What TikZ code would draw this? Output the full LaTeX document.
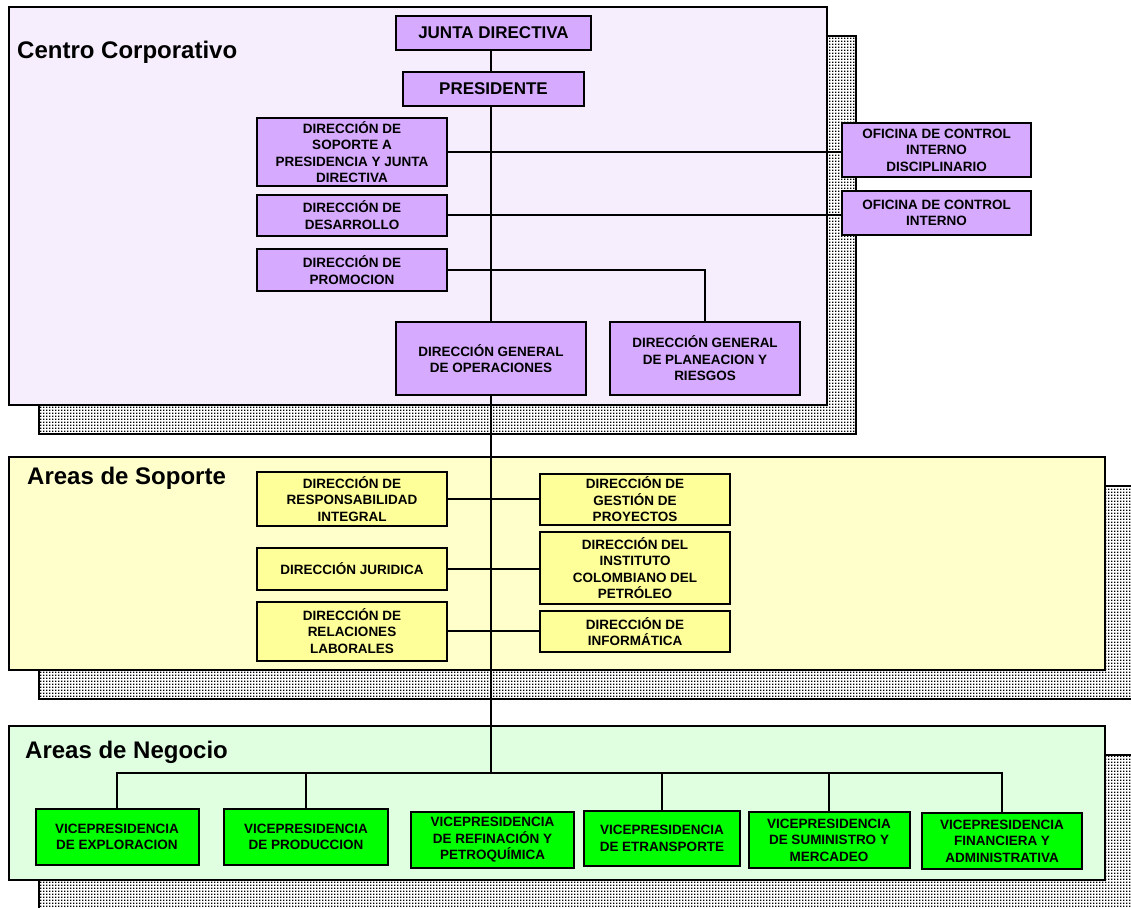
\documentclass[tikz,border=0pt]{standalone}
\usepackage{fontspec}
\setmainfont{Liberation Sans}
\usetikzlibrary{patterns}

\definecolor{lav}{HTML}{F6EEFC}
\definecolor{purp}{HTML}{D6ABFF}
\definecolor{ylpanel}{HTML}{FFFFCC}
\definecolor{ylnode}{HTML}{FFFF99}
\definecolor{grpanel}{HTML}{E0FFE0}
\definecolor{grnode}{HTML}{00FF00}

% square dot screen used for the drop shadows
\pgfdeclarepatternformonly{screendots}{\pgfpointorigin}{\pgfpoint{2.7pt}{2.7pt}}{\pgfpoint{2.7pt}{2.7pt}}{%
  \pgfpathrectangle{\pgfpointorigin}{\pgfpoint{1.6pt}{1.6pt}}\pgfusepath{fill}}

\pgfdeclarelayer{panels}
\pgfdeclarelayer{links}
\pgfsetlayers{panels,links,main}

\begin{document}
\begin{tikzpicture}[x=1pt,y=-1pt,
  unit/.style={draw=black, line width=2pt, inner sep=0pt, outer sep=0pt,
    align=center, font=\bfseries\fontsize{13.5}{16.5}\selectfont},
  corp/.style={unit, fill=purp},
  sup/.style={unit, fill=ylnode},
  neg/.style={unit, fill=grnode},
  big/.style={font=\bfseries\fontsize{17}{20}\selectfont},
  panel/.style={draw=black, line width=2pt},
  shade/.style={draw=black, line width=2pt, pattern=screendots, pattern color=black},
  title/.style={anchor=base west, inner sep=0pt, font=\bfseries\fontsize{24}{28}\selectfont},
  link/.style={draw=black, line width=2pt}
]
\useasboundingbox (0,0) rectangle (1131,907);

% group panels with their dotted drop shadows
\begin{pgfonlayer}{panels}
  \clip (0,0) rectangle (1131,907);
  \fill[white] (0,0) rectangle (1131,907);
  \fill[white] (39,36) rectangle (856,434);
  \path[shade] (39,36) rectangle (856,434);
  \path[panel, fill=lav] (9,7) rectangle (827,405);
  \fill[white] (39,486) rectangle (1140,699);
  \path[shade] (39,486) rectangle (1140,699);
  \path[panel, fill=ylpanel] (9,457) rectangle (1105,670);
  \fill[white] (39,755) rectangle (1140,915);
  \path[shade] (39,755) rectangle (1140,915);
  \path[panel, fill=grpanel] (9,726) rectangle (1105,880);
\end{pgfonlayer}

\node[title] (tcentro) at (17,59) {Centro Corporativo};
\node[title] (tsoporte) at (27,484) {Areas de Soporte};
\node[title] (tnegocio) at (25,758) {Areas de Negocio};

% Centro Corporativo
\node[corp, big, minimum width=195, minimum height=34] (junta) at (493.5,33) {JUNTA DIRECTIVA};
\node[corp, big, minimum width=181, minimum height=34] (pres) at (493.5,89) {PRESIDENTE};
\node[corp, minimum width=190, minimum height=68] (soporte) at (352,152)
  {DIRECCIÓN DE\\SOPORTE A\\PRESIDENCIA Y JUNTA\\DIRECTIVA};
\node[corp, minimum width=190, minimum height=41] (desarrollo) at (352,215)
  {DIRECCIÓN DE\\DESARROLLO};
\node[corp, minimum width=190, minimum height=42] (promocion) at (352,270)
  {DIRECCIÓN DE\\PROMOCION};
\node[corp, minimum width=190, minimum height=73] (operaciones) at (491,358.5)
  {DIRECCIÓN GENERAL\\DE OPERACIONES};
\node[corp, minimum width=190, minimum height=73] (planeacion) at (705,358.5)
  {DIRECCIÓN GENERAL\\DE PLANEACION Y\\RIESGOS};
\node[corp, minimum width=189, minimum height=54] (ocid) at (936.5,150)
  {OFICINA DE CONTROL\\INTERNO\\DISCIPLINARIO};
\node[corp, minimum width=189, minimum height=44] (oci) at (936.5,213)
  {OFICINA DE CONTROL\\INTERNO};

% Areas de Soporte
\node[sup, minimum width=190, minimum height=54] (resp) at (352,499)
  {DIRECCIÓN DE\\RESPONSABILIDAD\\INTEGRAL};
\node[sup, minimum width=190, minimum height=42] (juridica) at (352,569)
  {DIRECCIÓN JURIDICA};
\node[sup, minimum width=190, minimum height=59] (relaciones) at (352,631)
  {DIRECCIÓN DE\\RELACIONES\\LABORALES};
\node[sup, minimum width=190, minimum height=51] (gestion) at (635,499.5)
  {DIRECCIÓN DE\\GESTIÓN DE\\PROYECTOS};
\node[sup, minimum width=190, minimum height=72] (instituto) at (635,568)
  {DIRECCIÓN DEL\\INSTITUTO\\COLOMBIANO DEL\\PETRÓLEO};
\node[sup, minimum width=190, minimum height=41] (informatica) at (635,631.5)
  {DIRECCIÓN DE\\INFORMÁTICA};

% Areas de Negocio
\node[neg, minimum width=163, minimum height=56] (expl) at (117,837)
  {VICEPRESIDENCIA\\DE EXPLORACION};
\node[neg, minimum width=164, minimum height=56] (prod) at (306,837)
  {VICEPRESIDENCIA\\DE PRODUCCION};
\node[neg, minimum width=163, minimum height=56] (refi) at (492.5,840)
  {VICEPRESIDENCIA\\DE REFINACIÓN Y\\PETROQUÍMICA};
\node[neg, minimum width=156, minimum height=55] (etra) at (662,838.5)
  {VICEPRESIDENCIA\\DE ETRANSPORTE};
\node[neg, minimum width=161, minimum height=56] (sumi) at (829,840)
  {VICEPRESIDENCIA\\DE SUMINISTRO Y\\MERCADEO};
\node[neg, minimum width=160, minimum height=56] (fina) at (1002,841)
  {VICEPRESIDENCIA\\FINANCIERA Y\\ADMINISTRATIVA};

\coordinate (bus) at (491,773);

% reporting lines
\begin{pgfonlayer}{links}
  \draw[link] (junta.south -| operaciones.north) -- (operaciones.north);
  \draw[link] (soporte.east) -- (soporte.east -| ocid.west);
  \draw[link] (desarrollo.east) -- (desarrollo.east -| oci.west);
  \draw[link] (promocion.east) -| (planeacion.north);
  \draw[link] (operaciones.south) -- (bus);
  \draw[link] (resp.east) -- (resp.east -| gestion.west);
  \draw[link] (juridica.east) -- (juridica.east -| instituto.west);
  \draw[link] (relaciones.east) -- (relaciones.east -| informatica.west);
  \draw[link] (expl.north) |- (bus) -| (fina.north);
  \draw[link] (prod.north) -- (prod.north |- bus);
  \draw[link] (etra.north) -- (etra.north |- bus);
  \draw[link] (sumi.north) -- (sumi.north |- bus);
\end{pgfonlayer}
\end{tikzpicture}
\end{document}
